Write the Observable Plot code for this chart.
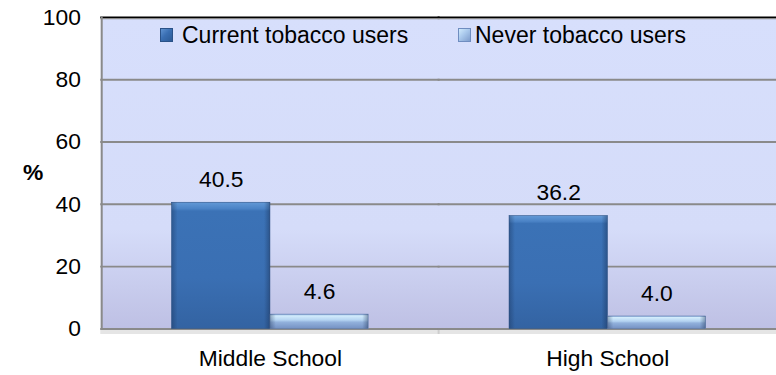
<!DOCTYPE html>
<html>
<head>
<meta charset="utf-8">
<script src="https://cdn.jsdelivr.net/npm/d3@7"></script>
<script src="https://cdn.jsdelivr.net/npm/@observablehq/plot@0.6"></script>
<style>
  html, body { margin: 0; padding: 0; background: #fff; overflow: hidden; }
  #wrap { position: relative; width: 776px; height: 375px; overflow: hidden; font-family: "Liberation Sans", Arial, sans-serif; }
  .leg { position: absolute; font-size: 23px; line-height: 23px; color: #000; white-space: nowrap; }
  .sw { position: absolute; width: 13px; height: 14px; box-sizing: border-box; }
</style>
</head>
<body>
<div id="wrap"></div>
<script>
const schools = ["Middle School", "High School"];
const seriesNames = ["Current tobacco users", "Never tobacco users"];
const currentUsers = [40.5, 36.2];
const neverUsers = [4.6, 4.0];
const yTicks = [0, 20, 40, 60, 80, 100];
const gridValues = [20, 40, 60, 80];
const axisLabel = "%";

const data = schools.flatMap((s, i) => [
  {school: s, series: seriesNames[0], value: currentUsers[i]},
  {school: s, series: seriesNames[1], value: neverUsers[i]}
]);
const cur = data.filter(d => d.series === seriesNames[0]);
const nev = data.filter(d => d.series === seriesNames[1]);

const chart = Plot.plot({
  width: 782,
  height: 375,
  marginLeft: 101,
  marginRight: 0,
  marginTop: 17,
  marginBottom: 44,
  style: {fontFamily: "Liberation Sans, Arial, sans-serif", fontSize: "23px", color: "#000", background: "transparent"},
  fx: {domain: schools, padding: 0, axis: "bottom", tickSize: 0, tickPadding: 21, label: null},
  x: {domain: seriesNames, paddingInner: 0, paddingOuter: 0.717, axis: null},
  y: {domain: [0, 100], ticks: yTicks, tickSize: 0, tickPadding: 21, label: null},
  marks: [
    Plot.frame({fill: "url(#gBg)", stroke: null, insetLeft: -1, insetRight: -1}),
    Plot.ruleY(gridValues, {stroke: "#8a8a8a", strokeWidth: 2, insetLeft: -1, insetRight: -1}),
    Plot.ruleY([0], {stroke: "#000", strokeOpacity: 0.1, strokeWidth: 4, dy: 3, insetLeft: -1, insetRight: -1}),
    Plot.ruleY([0], {stroke: "#8a8a8a", strokeWidth: 2, insetLeft: -1, insetRight: -1}),
    Plot.ruleY([100], {stroke: "#8a8a8a", strokeWidth: 2, dy: 1, insetLeft: -1, insetRight: -1}),
    Plot.ruleY([100], {stroke: "#000", strokeWidth: 1.5, insetLeft: -1, insetRight: -1}),
    Plot.frame({anchor: "left", facetAnchor: "left", stroke: "#8a8a8a", strokeWidth: 2}),
    Plot.barY(cur, {fx: "school", x: "series", y: "value", fill: "url(#gCur)", stroke: "#2a5288", strokeWidth: 0.6}),
    Plot.barY(nev, {fx: "school", x: "series", y: "value", fill: "url(#gNev)", stroke: "#5f7db0", strokeWidth: 0.6}),
    Plot.barY(data, {fx: "school", x: "series", y: "value", fill: "url(#gSide)"}),
    Plot.text(data, {fx: "school", x: "series", y: "value", text: d => d.value.toFixed(1), lineAnchor: "bottom", dy: -16, fill: "#000"}),
    Plot.text([50], {y: d => d, text: () => axisLabel, frameAnchor: "left", dx: -69, textAnchor: "middle", fontWeight: "bold", facetAnchor: "left", fill: "#000"})
  ]
});

const svg = d3.select(chart);
const defs = svg.insert("defs", ":first-child");
function grad(id, stops, horizontal) {
  const g = defs.append("linearGradient").attr("id", id)
    .attr("x1", 0).attr("y1", 0).attr("x2", horizontal ? 1 : 0).attr("y2", horizontal ? 0 : 1);
  stops.forEach(([o, c, op]) => g.append("stop").attr("offset", o).attr("stop-color", c).attr("stop-opacity", op == null ? 1 : op));
}
grad("gBg", [[0, "#d7dffc"], [0.68, "#d5dcf9"], [1, "#bec0e4"]]);
grad("gCur", [[0, "#6399d6"], [0.05, "#4b83c6"], [0.07, "#3b72b6"], [0.6, "#3a6fb3"], [1, "#3363a2"]]);
grad("gNev", [[0, "#86a9d8"], [0.12, "#d2ecfc"], [0.42, "#b4d3f1"], [0.56, "#92b1dc"], [1, "#7592c4"]]);
grad("gSide", [[0, "#14284a", 0.35], [0.06, "#14284a", 0], [0.94, "#14284a", 0], [1, "#14284a", 0.4]], true);

const wrap = document.getElementById("wrap");
wrap.appendChild(chart);

const legendItems = [
  {label: seriesNames[0], sw: 160, tx: 182, bg: "linear-gradient(135deg, #5f93d2 0%, #3a6fb3 45%, #2c5a96 100%)", border: "#2a5288"},
  {label: seriesNames[1], sw: 458, tx: 475, bg: "linear-gradient(135deg, #d0eafc 0%, #a9c8ec 45%, #7f9dcc 100%)", border: "#6f8dc0"}
];
legendItems.forEach(it => {
  const s = document.createElement("div");
  s.className = "sw";
  s.style.left = it.sw + "px";
  s.style.top = "28px";
  s.style.background = it.bg;
  s.style.border = "1px solid " + it.border;
  wrap.appendChild(s);
  const t = document.createElement("div");
  t.className = "leg";
  t.style.left = it.tx + "px";
  t.style.top = "24px";
  t.textContent = it.label;
  wrap.appendChild(t);
});
</script>
</body>
</html>
